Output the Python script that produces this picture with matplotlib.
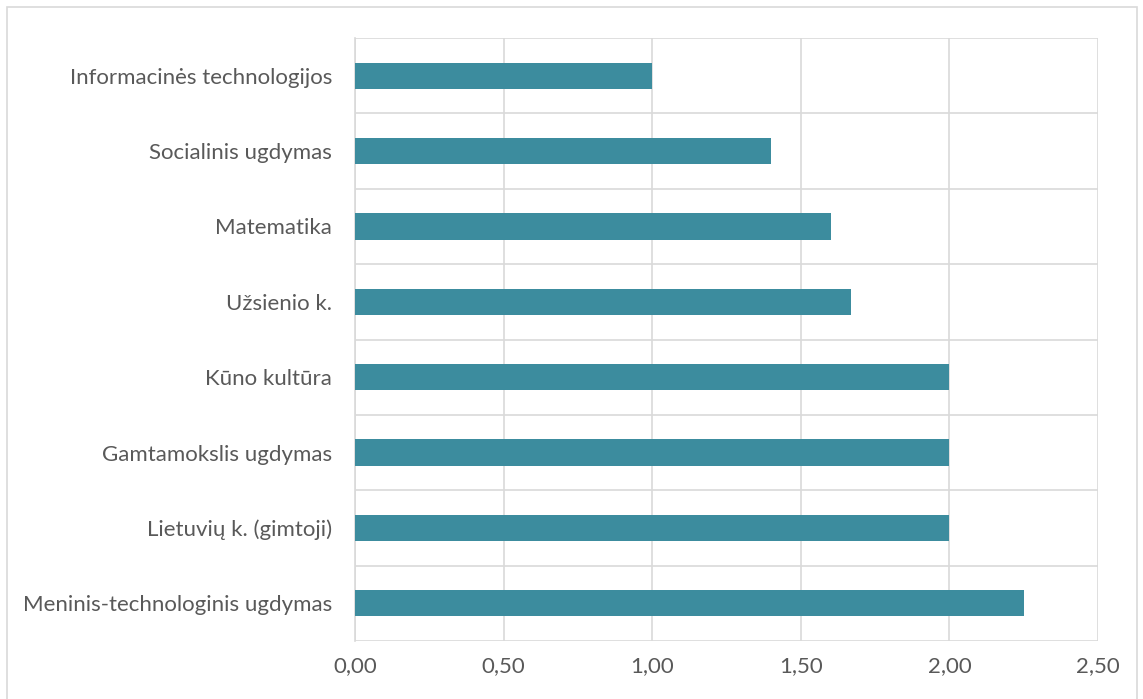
import numpy as np
import matplotlib.pyplot as plt
from matplotlib.patches import Rectangle
from matplotlib.ticker import FuncFormatter, FixedLocator

# dalykai ir reikšmės (iš viršaus į apačią)
dalykai = ['Informacinės technologijos', 'Socialinis ugdymas', 'Matematika',
           'Užsienio k.', 'Kūno kultūra', 'Gamtamokslis ugdymas',
           'Lietuvių k. (gimtoji)', 'Meninis-technologinis ugdymas']
reiksmes = [1.00, 1.40, 1.60, 1.67, 2.00, 2.00, 2.00, 2.25]
x_ticks = [0.0, 0.5, 1.0, 1.5, 2.0, 2.5]

plt.rcParams['font.family'] = ['Lato', 'DejaVu Sans']

fig = plt.figure(figsize=(11.43, 6.99), dpi=100)
ax = fig.add_axes([0.3106, 0.083, 0.65, 0.8626])

y = np.arange(len(dalykai))
ax.barh(y, reiksmes, height=0.35, color='#3C8C9E', zorder=3)
ax.set_yticks(y)
ax.set_yticklabels(dalykai)
ax.set_ylim(len(dalykai) - 0.5, -0.5)
ax.set_xlim(0, 2.5)
ax.set_xticks(x_ticks)
ax.xaxis.set_major_formatter(FuncFormatter(lambda v, p: f'{v:.2f}'.replace('.', ',')))

# horizontalios linijos tarp kategorijų
ax.yaxis.set_minor_locator(FixedLocator(np.arange(-0.5, len(dalykai), 1)))
ax.grid(axis='y', which='minor', color='#D9D9D9', linewidth=1.2, zorder=0)
ax.grid(axis='x', which='major', color='#D9D9D9', linewidth=1.2, zorder=0)

for s in ['top', 'right', 'bottom']:
    ax.spines[s].set_visible(False)
ax.spines['left'].set_color('#D9D9D9')
ax.spines['left'].set_linewidth(1.2)
ax.tick_params(axis='both', which='both', length=0, labelsize=16, colors='#595959')
ax.tick_params(axis='y', pad=16.5)
ax.tick_params(axis='x', pad=11)

# rėmelis aplink diagramą
fig.patches.append(Rectangle((7 / 1143, -0.01), 1130 / 1143, 1 - 7 / 699 + 0.01,
                             transform=fig.transFigure, fill=False,
                             edgecolor='#D9D9D9', linewidth=1.2))

plt.savefig('out.png')
